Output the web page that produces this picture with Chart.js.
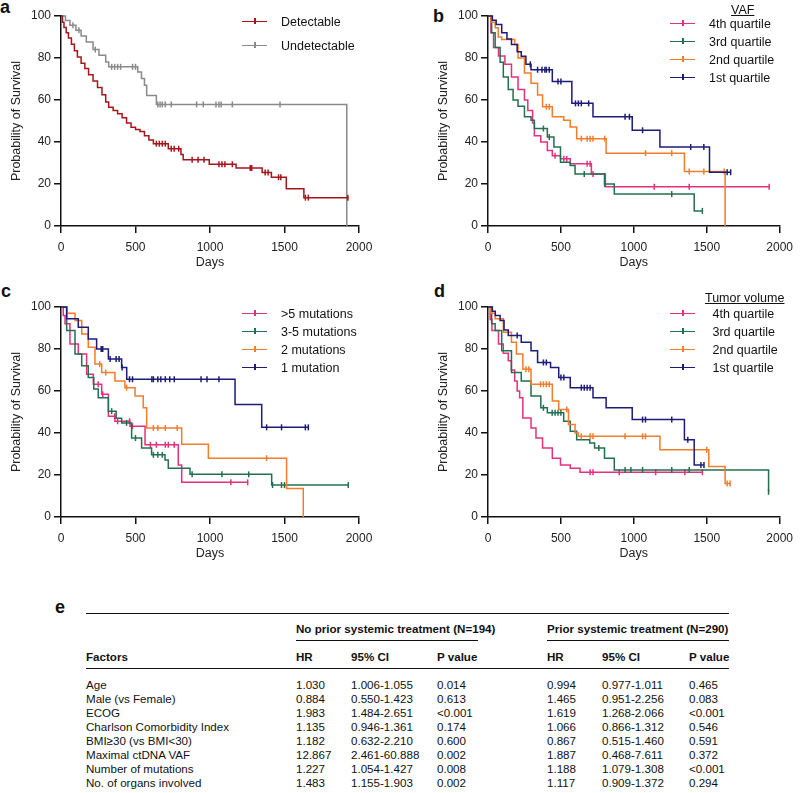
<!DOCTYPE html>
<html>
<head>
<meta charset="utf-8">
<script src="https://cdn.jsdelivr.net/npm/chart.js@4.4.0/dist/chart.umd.min.js"></script>
<style>
body { margin:0; width:800px; height:793px; overflow:hidden; background:#fff; position:relative;
       font-family:"Liberation Sans", Arial, sans-serif; color:#111; }
canvas { position:absolute; }
.panel { position:absolute; font-weight:bold; font-size:18px; line-height:18px; }
.leg { position:absolute; font-size:12.5px; line-height:14px; white-space:pre; color:#111; }
.legline { position:absolute; height:0; width:25px; }
.legtick { position:absolute; width:1.5px; height:6px; }
.cell { position:absolute; font-size:11.6px; line-height:13px; white-space:pre; color:#111; }
.hline { position:absolute; height:0; border-top:1.5px solid #111; }
</style>
</head>
<body>
<div class="panel" style="left:0;top:-2px">a</div>
<div class="panel" style="left:433px;top:7px">b</div>
<div class="panel" style="left:1px;top:282px">c</div>
<div class="panel" style="left:434px;top:282px">d</div>
<div class="panel" style="left:55px;top:598px">e</div>

<canvas id="ca" width="400" height="280" style="left:0;top:0"></canvas>
<canvas id="cb" width="373" height="280" style="left:427px;top:0"></canvas>
<canvas id="cc" width="400" height="280" style="left:0;top:291px"></canvas>
<canvas id="cd" width="373" height="280" style="left:427px;top:291px"></canvas>

<script>
// colours
const red = '#a3171c', gray = '#8a8a8a', pink = '#e4317e', green = '#22704f', orange = '#f47c2a', navy = '#1c1c78';

// ---- panel a: ctDNA detectable vs undetectable (days, % survival, censor days)
const aDetT = [0,10,20,35,50,70,90,110,135,160,185,215,245,275,300,320,350,380,410,440,470,500,530,560,590,620,720,805,820,995,1175,1350,1412,1512,1630,1930];
const aDetS = [100,97,94.5,92,89.5,86.5,83.5,80.5,77.5,75,72,69,66,62.5,59,56.5,55,53.5,51.5,49,47,46,45,43,41,39.2,36.8,34,31.6,29.4,27.6,25.5,23.2,17.7,13.5,13.5];
const aDetC = [640,660,680,700,740,760,790,880,920,960,1060,1080,1100,1150,1270,1280,1370,1390,1460,1475,1640,1660,1925];
const aUndT = [0,30,60,100,135,170,215,255,300,320,515,540,560,575,640,1918];
const aUndS = [100,97.9,95.6,93.2,90.5,87.6,84,81.3,78.1,75.8,73.3,70.2,67,62.2,57.9,0];
const aUndC = [80,120,230,340,360,380,400,480,500,650,665,680,700,740,910,955,1040,1060,1075,1150,1470];

// ---- panel b: VAF quartiles
const bQ4T = [0,20,38,72,116,161,206,250,273,306,318,362,407,441,497,564,709,805,1928];
const bQ4S = [100,92,85,81,77,71,65,60,55,49,43,40,36,33.5,32,29.6,24.8,18.7,18.7];
const bQ4C = [460,520,540,680,700,720,1140,1380,1928];
const bQ3T = [0,25,49,83,105,139,172,206,250,295,318,407,452,497,564,597,799,866,1414,1470];
const bQ3S = [100,92,85,78,71,65,60,57,52,50.4,46.4,42.4,37.6,30.4,28.8,24.8,20,15.2,7.2,7.2];
const bQ3C = [380,420,660,800,1260,1470];
const bQ2T = [0,20,49,70,94,183,206,250,295,340,374,441,519,564,608,810,1347,1626];
const bQ2S = [100,97,94.4,90,88.8,86.4,80,72.8,68,62.4,56.8,52,50.4,47.2,41.6,34.7,26,0];
const bQ2C = [400,420,640,680,700,720,800,1080,1260,1380,1480,1620];
const bQ1T = [0,30,56,94,130,161,200,228,260,295,441,575,720,989,1179,1519,1664];
const bQ1S = [100,98,96,92,89,86.4,83,80.8,77,74.4,68.8,58.4,52,45.6,37.6,25.6,25.6];
const bQ1C = [290,340,370,390,400,420,480,500,600,620,640,690,940,970,1060,1390,1480,1640,1664];

// ---- panel c: number of mutations
const cM5T = [0,15,27,60,116,172,217,273,318,362,463,564,787,810,1253];
const cM5S = [100,96,92,82.4,77.6,68,63.2,58.4,48,45.6,43.2,34.4,24.8,16.5,16.5];
const cM5C = [250,280,360,380,460,480,600,640,700,720,760,1140,1253];
const cM35T = [0,38,94,139,183,220,250,318,370,407,474,541,608,698,720,866,1414,1928];
const cM35S = [100,88.8,77.6,72,66.4,61,56.8,50.4,47,44.8,37.6,32.8,29.6,27.2,23.2,20.3,15.2,15.2];
const cM35C = [340,440,500,620,650,680,880,1080,1260,1420,1480,1500,1928];
const cM2T = [0,40,94,139,183,228,273,362,429,497,552,575,810,989,1514,1626];
const cM2S = [100,97,93.6,87.2,80.8,72.8,68.8,64.8,61.6,57.6,52,42.4,34.7,28,13.6,0];
const cM2C = [260,300,440,620,650,700,780,1380];
const cM1T = [0,38,116,183,239,318,407,441,1168,1347,1660];
const cM1S = [100,94.4,90.4,84.8,80,75.2,71.2,65.6,53.6,42.7,42.7];
const cM1C = [270,280,330,370,390,410,460,480,610,620,650,670,700,730,760,940,980,1060,1380,1480,1640,1660];

// ---- panel d: tumor volume quartiles
const dQ4T = [0,15,27,72,105,139,160,183,200,217,239,295,329,374,441,497,564,631,1470];
const dQ4S = [100,94,88.8,82.4,78,74.4,70,64.8,60,56.8,47.2,42.4,37.6,32.8,28,24.8,23.2,21.3,21.3];
const dQ4C = [700,720,900,1150,1350,1470];
const dQ3T = [0,25,49,94,161,228,295,362,407,519,564,608,698,731,799,866,1924];
const dQ3S = [100,92,88.8,79.2,68.8,64.8,57.6,52,49.6,45.6,40.8,36.8,35.2,32.8,28,22.4,12];
const dQ3C = [380,440,460,480,500,760,940,980,1060,1260,1380,1924];
const dQ2T = [0,20,49,105,161,195,239,295,441,485,552,597,620,1179,1514,1626,1660];
const dQ2S = [100,97,94.4,88,83.2,77.6,70.4,63.2,55.2,51.2,44,40,38.4,32,24,16,16];
const dQ2C = [260,280,360,380,400,420,540,640,700,720,940,1060,1080,1500,1640,1660];
const dQ1T = [0,30,50,83,110,139,228,295,340,429,485,564,720,810,989,1347,1414,1481];
const dQ1S = [100,98,96,93.6,89,86.4,83.2,79.2,73.6,71.2,66.4,61.6,56.8,52,46.4,36.8,24.8,24.8];
const dQ1C = [200,380,400,500,520,640,660,680,700,1060,1080,1260,1370,1460,1481];

// ---- table e
const factors = ['Age','Male (vs Female)','ECOG','Charlson Comorbidity Index','BMI\u226530 (vs BMI<30)','Maximal ctDNA VAF','Number of mutations','No. of organs involved','Volume of all lesions'];
const hrNo = ['1.030','0.884','1.983','1.135','1.182','12.867','1.227','1.483','1.000'];
const ciNo = ['1.006-1.055','0.550-1.423','1.484-2.651','0.946-1.361','0.632-2.210','2.461-60.888','1.054-1.427','1.155-1.903','1.000-1.000'];
const pNo = ['0.014','0.613','<0.001','0.174','0.600','0.002','0.008','0.002','0.070'];
const hrPrior = ['0.994','1.465','1.619','1.066','0.867','1.887','1.188','1.117','1.000'];
const ciPrior = ['0.977-1.011','0.951-2.256','1.268-2.066','0.866-1.312','0.515-1.460','0.468-7.611','1.079-1.308','0.909-1.372','1.000-1.001'];
const pPrior = ['0.465','0.083','<0.001','0.546','0.591','0.372','<0.001','0.294','0.405'];

// survival value of a step curve at time t
function survAt(t, times, surv) {
  let v = surv[0];
  for (let i = 0; i < times.length; i++) {
    if (times[i] <= t) v = surv[i];
  }
  return v;
}

function makeChart(id, series, padRight) {
  const datasets = [];
  series.forEach(s => {
    datasets.push({
      data: s.t.map((t, i) => ({x: t, y: s.s[i]})),
      borderColor: s.color, borderWidth: 1.5, stepped: true,
      pointRadius: 0, fill: false, clip: false
    });
    datasets.push({
      data: s.c.map(t => ({x: t, y: survAt(t, s.t, s.s)})),
      showLine: false, pointStyle: 'line', rotation: 90, pointRadius: 3,
      borderColor: s.color, borderWidth: 1.5, clip: false
    });
  });
  return new Chart(document.getElementById(id), {
    type: 'line',
    data: { datasets: datasets },
    options: {
      responsive: false, animation: false,
      layout: { padding: { top: 16, right: padRight, bottom: 0, left: 0 } },
      plugins: { legend: { display: false }, tooltip: { enabled: false } },
      scales: {
        x: {
          type: 'linear', min: 0, max: 2000,
          ticks: { stepSize: 500, color: '#222', font: { size: 12, family: 'Liberation Sans' }, padding: 7, maxRotation: 0,
                   callback: v => String(v) },
          grid: { drawOnChartArea: false, tickLength: 7, color: '#111', lineWidth: 1.5 },
          border: { color: '#111', width: 1.5 },
          title: { display: true, text: 'Days', color: '#222', font: { size: 12.5, family: 'Liberation Sans' }, padding: { top: 0, bottom: 10 } },
          afterFit: sc => { sc.height = 54; }
        },
        y: {
          min: 0, max: 100,
          ticks: { stepSize: 20, color: '#222', font: { size: 12, family: 'Liberation Sans' }, padding: 3 },
          grid: { drawOnChartArea: false, tickLength: 7, color: '#111', lineWidth: 1.5 },
          border: { color: '#111', width: 1.5 },
          title: { display: true, text: 'Probability of Survival', color: '#222', font: { size: 12.5, family: 'Liberation Sans' }, padding: { top: 9, bottom: 0 } },
          afterFit: sc => { sc.width = 61; }
        }
      }
    }
  });
}

makeChart('ca', [
  { t: aDetT, s: aDetS, c: aDetC, color: red },
  { t: aUndT, s: aUndS, c: aUndC, color: gray }
], 41);
makeChart('cb', [
  { t: bQ1T, s: bQ1S, c: bQ1C, color: navy },
  { t: bQ2T, s: bQ2S, c: bQ2C, color: orange },
  { t: bQ3T, s: bQ3S, c: bQ3C, color: green },
  { t: bQ4T, s: bQ4S, c: bQ4C, color: pink }
], 13);
makeChart('cc', [
  { t: cM1T, s: cM1S, c: cM1C, color: navy },
  { t: cM2T, s: cM2S, c: cM2C, color: orange },
  { t: cM35T, s: cM35S, c: cM35C, color: green },
  { t: cM5T, s: cM5S, c: cM5C, color: pink }
], 41);
makeChart('cd', [
  { t: dQ1T, s: dQ1S, c: dQ1C, color: navy },
  { t: dQ2T, s: dQ2S, c: dQ2C, color: orange },
  { t: dQ3T, s: dQ3S, c: dQ3C, color: green },
  { t: dQ4T, s: dQ4S, c: dQ4C, color: pink }
], 13);

// legends
function addLegend(x, ys, labels, colors, title) {
  const body = document.body;
  if (title) {
    const t = document.createElement('div');
    t.className = 'leg';
    t.style.left = title.x + 'px'; t.style.top = (title.y - 7) + 'px';
    t.style.textDecoration = 'underline';
    t.textContent = title.text;
    body.appendChild(t);
  }
  labels.forEach((lab, i) => {
    const cy = ys[i];
    const ln = document.createElement('div');
    ln.className = 'legline';
    ln.style.left = x + 'px'; ln.style.top = (cy - 0.75) + 'px';
    ln.style.borderTop = '1.5px solid ' + colors[i];
    body.appendChild(ln);
    const tk = document.createElement('div');
    tk.className = 'legtick';
    tk.style.left = (x + 12) + 'px'; tk.style.top = (cy - 4.5) + 'px';
    tk.style.background = colors[i];
    body.appendChild(tk);
    const tx = document.createElement('div');
    tx.className = 'leg';
    tx.style.left = (x + 39) + 'px'; tx.style.top = (cy - 7) + 'px';
    tx.textContent = lab;
    body.appendChild(tx);
  });
}
addLegend(242, [22, 46], ['Detectable', 'Undetectable'], [red, gray], null);
addLegend(670, [24, 42, 60, 78], ['4th quartile', '3rd quartile', '2nd quartile', '1st quartile'], [pink, green, orange, navy], { x: 731, y: 10, text: 'VAF' });
addLegend(242, [314, 332, 350, 368], ['>5 mutations', '3-5 mutations', '2 mutations', '1 mutation'], [pink, green, orange, navy], null);
addLegend(670, [314, 332, 350, 368], [' 4th quartile', ' 3rd quartile', ' 2nd quartile', ' 1st quartile'], [pink, green, orange, navy], { x: 705, y: 298, text: 'Tumor volume' });

// table e
(function () {
  const body = document.body;
  function cell(x, y, text, bold) {
    const d = document.createElement('div');
    d.className = 'cell';
    d.style.left = x + 'px'; d.style.top = (y - 6.5) + 'px';
    if (bold) d.style.fontWeight = 'bold';
    d.textContent = text;
    body.appendChild(d);
  }
  function hline(x1, x2, y) {
    const d = document.createElement('div');
    d.className = 'hline';
    d.style.left = x1 + 'px'; d.style.width = (x2 - x1) + 'px'; d.style.top = (y - 0.75) + 'px';
    body.appendChild(d);
  }
  const cols = [86, 296, 351, 437, 547, 602, 689];
  hline(86, 729, 614);
  cell(296, 628, 'No prior systemic treatment (N=194)', true);
  cell(547, 628, 'Prior systemic treatment (N=290)', true);
  hline(296, 478, 641);
  hline(547, 729, 641);
  const heads = ['Factors', 'HR', '95% CI', 'P value', 'HR', '95% CI', 'P value'];
  heads.forEach((h, i) => cell(cols[i], 656, h, true));
  hline(86, 729, 669);
  factors.forEach((f, r) => {
    const y = 684 + r * 14;
    const row = [f, hrNo[r], ciNo[r], pNo[r], hrPrior[r], ciPrior[r], pPrior[r]];
    row.forEach((v, i) => cell(cols[i], y, v, false));
  });
})();
</script>
</body>
</html>
